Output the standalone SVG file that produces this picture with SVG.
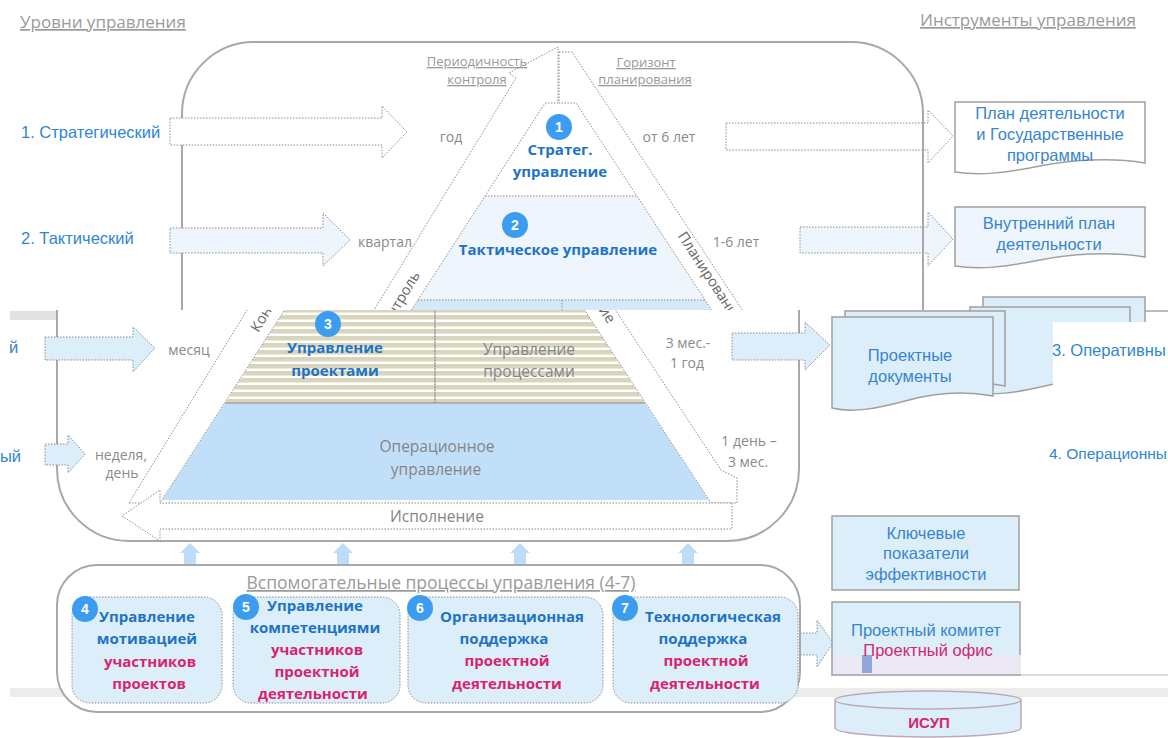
<svg xmlns="http://www.w3.org/2000/svg" xmlns:xlink="http://www.w3.org/1999/xlink" width="1168" height="738" viewBox="0 0 1168 738">
<style>
.lvl{font-family:'Liberation Sans',Arial,sans-serif;font-size:16.5px;fill:#2f86d6}
.gray{font-family:'Open Sans','Noto Sans',sans-serif;font-size:14px;fill:#8a8a8a}
.grayL{font-family:'Open Sans','Noto Sans',sans-serif;font-size:15.5px;fill:#858585}
.hdr{font-family:'Open Sans','Noto Sans',sans-serif;font-size:17px;fill:#9a9a9a;text-decoration:underline}
.sub{font-family:'Open Sans','Noto Sans',sans-serif;font-size:13px;fill:#9a9a9a;text-decoration:underline}
.bt{font-family:'Open Sans','Noto Sans',sans-serif;font-size:15px;font-weight:bold;fill:#1f73c4}
.pk{font-family:'Open Sans','Noto Sans',sans-serif;font-size:15px;font-weight:bold;fill:#d8246f}
.doc{font-family:'Liberation Sans',Arial,sans-serif;font-size:16.5px;fill:#3585d0}
.num{font-family:'Liberation Sans',Arial,sans-serif;font-size:14px;font-weight:bold;fill:#fff}
.rot{font-family:'Open Sans','Noto Sans',sans-serif;font-size:14.5px;fill:#666}
.dot{stroke:#8c8c8c;stroke-width:1;stroke-dasharray:1.5 1.5}
.frame{fill:none;stroke:#a8a8a8;stroke-width:2}
.docbox{stroke:#a0a0a0;stroke-width:1.5}
.c{text-anchor:middle}
.circ{fill:#3c9df0}
</style>
<defs>
<pattern id="tan" width="8" height="7" patternUnits="userSpaceOnUse">
<rect width="8" height="7" fill="#ffffff"/><rect width="8" height="4.5" fill="#d8d5bc"/>
</pattern>
<clipPath id="clipTop"><rect x="0" y="0" width="1168" height="310"/></clipPath>
<clipPath id="clipLow"><rect x="0" y="310" width="1168" height="250"/></clipPath>
<g id="pyr">
<polygon points="560.5,79 485,196 637,196" fill="#ffffff"/>
<polygon points="485,196 637,196 705,300 418,300" fill="#eef5fd"/>
<polygon points="418,300 705,300 711.5,310 411.5,310" fill="#d6e9fb"/>
<polygon points="411.5,310 711.5,310 772,403 352,403" fill="url(#tan)"/>
<polygon points="352,403 772,403 836,500 289,500" fill="#c2dff9"/>
<line x1="485" y1="196" x2="637" y2="196" class="dot"/>
<line x1="418" y1="300" x2="705" y2="300" class="dot"/>
<line x1="562" y1="300" x2="562" y2="403" class="dot" stroke="#555"/>
<line x1="352" y1="403" x2="772" y2="403" stroke="#a5a5a5" stroke-width="1.5"/>
<polygon points="256,503 516,78 509,73 558,47 558,103 545,103 287,503" fill="#ffffff" class="dot"/>
<polygon points="559,52 572,52 848,470 864,478 864,503 838,503 576,103 559,103" fill="#ffffff" class="dot"/>
<text class="rot c" transform="translate(403,304) rotate(-59)">Контроль</text>
<text class="rot c" transform="translate(706,280) rotate(57)">Планирование</text>
</g>
</defs>

<rect x="10" y="311" width="46" height="9" fill="#e2e2e2"/>
<rect x="10" y="688" width="1158" height="9" fill="#ececec"/>
<line x1="1020" y1="675" x2="1168" y2="675" stroke="#dddddd" stroke-width="2"/>
<line x1="1130" y1="311" x2="1168" y2="311" stroke="#bbbbbb" stroke-width="2"/>

<g id="titles">
<text x="20" y="28" class="hdr">Уровни управления</text>
<text x="920" y="26" class="hdr">Инструменты управления</text>
</g>

<g id="connectors">
<polygon points="726,123 928,123 928,110 953,136 928,163 928,150 726,150" fill="#ffffff" class="dot"/>
<polygon points="800,227 928,227 928,212 953,239 928,266 928,253 800,253" fill="#eef5fd" class="dot"/>
</g>

<g id="frame-upper">
<path d="M182,310 V114 A72,72 0 0 1 254,42 H851 A72,72 0 0 1 923,114 V310" class="frame"/>
<path d="M57,310 V469 A72,72 0 0 0 129,541 H727 A72,72 0 0 0 799,469 V310" class="frame"/>
</g>

<g id="level-arrows">
<polygon points="170,118 382,118 382,106 407,132 382,158 382,145 170,145" fill="#ffffff" class="dot"/>
<polygon points="170,228 323,228 323,213 350,240 323,266 323,253 170,253" fill="#eef5fd" class="dot"/>
<polygon points="45,337 133,337 133,327 155,348 133,372 133,360 45,360" fill="#ddeefb" class="dot"/>
<polygon points="45,444 68,444 68,435 85,454 68,473 68,465 45,465" fill="#ddeefb" class="dot"/>
<polygon points="732,333 805,333 805,322 830,345 805,370 805,360 732,360" fill="#ddeefb" class="dot"/>
</g>

<g id="levels">
<text x="21" y="138" class="lvl">1. Стратегический</text>
<text x="21" y="244" class="lvl">2. Тактический</text>
<text x="9" y="353" class="lvl">й</text>
<text x="0" y="462" class="lvl">ый</text>
<text x="1049" y="459" class="lvl" style="font-size:15.5px">4. Операционны</text>
</g>

<g id="pyramid">
<use xlink:href="#pyr" href="#pyr" clip-path="url(#clipTop)"/>
<g clip-path="url(#clipLow)"><use xlink:href="#pyr" href="#pyr" transform="translate(-127,0)"/></g>
<line x1="435" y1="311" x2="435" y2="403" class="dot" stroke="#555"/>
<polygon points="732,503 732,529 160,529 160,541 122,516 160,490 160,503" fill="#ffffff" class="dot"/>
</g>

<g id="period-labels">
<text x="477" y="66" class="sub c">Периодичность</text>
<text x="477" y="84" class="sub c">контроля</text>
<text x="646" y="67" class="sub c">Горизонт</text>
<text x="645" y="84" class="sub c">планирования</text>
<text x="451" y="142" class="gray c">год</text>
<text x="669" y="142" class="gray c">от 6 лет</text>
<text x="385" y="247" class="gray c">квартал</text>
<text x="736" y="247" class="gray c">1-6 лет</text>
<text x="189" y="355" class="gray c">месяц</text>
<text x="121" y="460" class="gray c">неделя,</text>
<text x="122" y="478" class="gray c">день</text>
<text x="688" y="348" class="gray c">3 мес.-</text>
<text x="687" y="368" class="gray c">1 год</text>
<text x="749" y="446" class="gray c">1 день –</text>
<text x="748" y="467" class="gray c">3 мес.</text>
</g>

<g id="node-strateg">
<circle cx="559" cy="127" r="13" class="circ"/>
<text x="559" y="132" class="num c">1</text>
<text x="560" y="155" class="bt c">Стратег.</text>
<text x="560" y="177" class="bt c">управление</text>
</g>
<g id="node-tactic">
<circle cx="515" cy="225" r="13" class="circ"/>
<text x="515" y="230" class="num c">2</text>
<text x="558" y="255" class="bt c">Тактическое управление</text>
</g>
<g id="node-projects">
<circle cx="328" cy="324" r="13" class="circ"/>
<text x="328" y="329" class="num c">3</text>
<text x="335" y="353" class="bt c">Управление</text>
<text x="335" y="376" class="bt c">проектами</text>
</g>
<g id="node-processes">
<text x="529" y="355" class="grayL c">Управление</text>
<text x="529" y="377" class="grayL c">процессами</text>
</g>
<g id="node-operational">
<text x="437" y="452" class="grayL c">Операционное</text>
<text x="436" y="475" class="grayL c">управление</text>
</g>
<g id="node-execution">
<text x="437" y="522" class="grayL c">Исполнение</text>
</g>

<g id="doc-plan">
<path d="M955,102 H1145 V163 C1110,157 1070,160 1040,166 C1005,173 980,176 955,172 Z" fill="#ffffff" class="docbox"/>
<text x="1050" y="119" class="doc c">План деятельности</text>
<text x="1050" y="140" class="doc c">и Государственные</text>
<text x="1050" y="161" class="doc c">программы</text>
</g>
<g id="doc-internal">
<path d="M955,207 H1145 V257 C1110,251 1070,254 1040,260 C1005,267 980,270 955,266 Z" fill="#eef5fd" class="docbox"/>
<text x="1049" y="229" class="doc c">Внутренний план</text>
<text x="1049" y="250" class="doc c">деятельности</text>
</g>
<g id="doc-project">
<path d="M983,297 H1145 V372 C1115,366 1085,370 1060,376 C1030,383 1005,386 983,382 Z" fill="#ddeefb" class="docbox"/>
<path d="M970,307 H1130 V382 C1100,376 1070,380 1045,386 C1015,393 992,396 970,392 Z" fill="#ddeefb" class="docbox"/>
<path d="M845,311 H1005 V386 C975,380 945,384 920,390 C890,397 867,400 845,396 Z" fill="#ddeefb" class="docbox"/>
<path d="M832,317 H993 V396 C960,390 930,394 905,401 C875,409 852,413 832,408 Z" fill="#ddeefb" class="docbox"/>
<rect x="1053" y="322" width="115" height="75" fill="#ffffff"/>
<text x="1052" y="356" class="lvl">3. Оперативны</text>
<text x="910" y="361" class="doc c">Проектные</text>
<text x="910" y="382" class="doc c">документы</text>
</g>

<g id="node-kpi">
<rect x="832" y="516" width="187" height="74" fill="#ddeefb" class="docbox"/>
<text x="926" y="539" class="doc c">Ключевые</text>
<text x="926" y="559" class="doc c">показатели</text>
<text x="926" y="580" class="doc c">эффективности</text>
</g>

<g id="support-arrows">
<polygon points="180,553 190,543 200,553 196,553 196,564 184,564 184,553" fill="#bddcf8"/>
<polygon points="333,553 343,543 353,553 349,553 349,564 337,564 337,553" fill="#bddcf8"/>
<polygon points="510,553 520,543 530,553 526,553 526,564 514,564 514,553" fill="#bddcf8"/>
<polygon points="678,553 688,543 698,553 694,553 694,564 682,564 682,553" fill="#bddcf8"/>
<polygon points="800,633 817,633 817,620 833,643 817,667 817,655 800,655" fill="#ddeefb" class="dot"/>
</g>

<g id="support-frame">
<rect x="57" y="565" width="743" height="147" rx="40" fill="#ffffff" stroke="#a8a8a8" stroke-width="2"/>
<text x="441" y="589" class="hdr c" style="font-size:17.5px">Вспомогательные процессы управления (4-7)</text>
</g>

<g id="node-4">
<rect x="72" y="597" width="150" height="106" rx="18" fill="#ddeefb" class="dot"/>
<circle cx="85" cy="609" r="13" class="circ"/>
<text x="85" y="614" class="num c">4</text>
<text x="147" y="622" class="bt c">Управление</text>
<text x="147" y="644" class="bt c">мотивацией</text>
<text x="150" y="667" class="pk c">участников</text>
<text x="149" y="689" class="pk c">проектов</text>
</g>
<g id="node-5">
<rect x="233" y="597" width="167" height="106" rx="18" fill="#ddeefb" class="dot"/>
<circle cx="246" cy="607" r="13" class="circ"/>
<text x="246" y="612" class="num c">5</text>
<text x="315" y="611" class="bt c">Управление</text>
<text x="315" y="633" class="bt c">компетенциями</text>
<text x="317" y="655" class="pk c">участников</text>
<text x="317" y="677" class="pk c">проектной</text>
<text x="313" y="699" class="pk c">деятельности</text>
</g>
<g id="node-6">
<rect x="408" y="597" width="195" height="106" rx="18" fill="#ddeefb" class="dot"/>
<circle cx="420" cy="608" r="13" class="circ"/>
<text x="420" y="613" class="num c">6</text>
<text x="512" y="622" class="bt c">Организационная</text>
<text x="504" y="644" class="bt c">поддержка</text>
<text x="507" y="666" class="pk c">проектной</text>
<text x="507" y="689" class="pk c">деятельности</text>
</g>
<g id="node-7">
<rect x="613" y="597" width="185" height="106" rx="18" fill="#ddeefb" class="dot"/>
<circle cx="625" cy="608" r="13" class="circ"/>
<text x="625" y="613" class="num c">7</text>
<text x="713" y="622" class="bt c">Технологическая</text>
<text x="703" y="644" class="bt c">поддержка</text>
<text x="706" y="666" class="pk c">проектной</text>
<text x="705" y="689" class="pk c">деятельности</text>
</g>

<g id="node-committee">
<rect x="832" y="602" width="188" height="73" fill="#ddeefb" class="docbox"/>
<rect x="833" y="655" width="188" height="19" fill="#ece8f6"/>
<rect x="862" y="655" width="10" height="18" fill="#8ea6d8"/>
<text x="926" y="636" class="doc c">Проектный комитет</text>
<text x="928" y="656" class="doc c" style="fill:#d8246f">Проектный офис</text>
</g>

<g id="node-isup">
<path d="M835,700 V728 A93,9 0 0 0 1021,728 V700" fill="#ddeefb" stroke="#c0a8b8" stroke-width="1.5"/>
<ellipse cx="928" cy="700" rx="93" ry="9" fill="#ddeefb" stroke="#c0a8b8" stroke-width="1.5"/>
<text x="929" y="728" class="c" style="font-family:'Liberation Sans',Arial,sans-serif;font-size:15px;font-weight:bold;fill:#d8246f">ИСУП</text>
</g>
</svg>
